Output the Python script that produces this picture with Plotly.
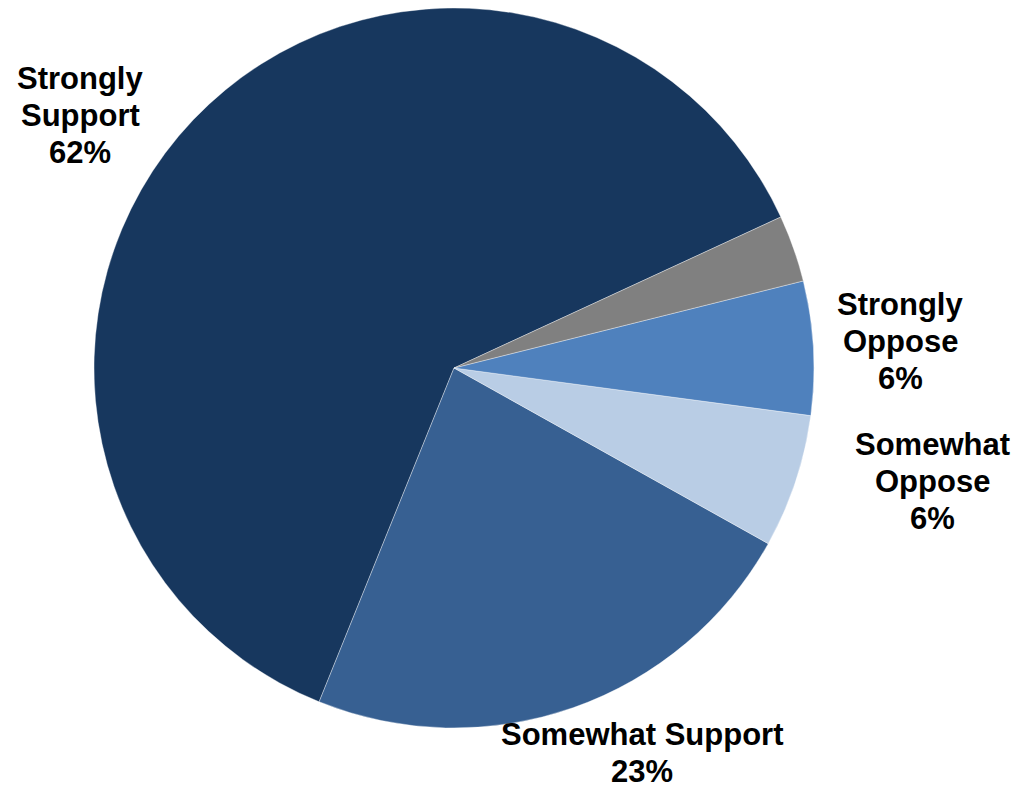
import plotly.graph_objects as go

# Data
categories = ["Strongly Support", "Somewhat Support", "Somewhat Oppose", "Strongly Oppose", "Not Sure"]
values = [62, 23, 6, 6, 3]
colors = ["#17375E", "#376092", "#B9CDE5", "#4F81BD", "#808080"]
label_lines = [["Strongly", "Support"], ["Somewhat Support"], ["Somewhat", "Oppose"], ["Strongly", "Oppose"], None]

W, H = 1029, 785

fig = go.Figure(
    go.Pie(
        labels=categories,
        values=values,
        sort=False,
        direction="counterclockwise",
        rotation=202,
        marker=dict(colors=colors, line=dict(color="rgba(255,255,255,0.6)", width=0.6)),
        textinfo="none",
        hoverinfo="label+percent",
        showlegend=False,
        domain=dict(x=[94 / W, 814 / W], y=[1 - 728 / H, 1 - 8 / H]),
    )
)

# label layout: centre x and first-line centre y in pixels, line step
label_pos = [(80, 79), (642, 734), (932, 444), (900, 304), None]
LINE_STEP = 37
total = sum(values)
for lines, v, pos in zip(label_lines, values, label_pos):
    if lines is None:
        continue
    all_lines = lines + [f"{round(100 * v / total)}%"]
    for i, line in enumerate(all_lines):
        py = pos[1] + i * LINE_STEP
        fig.add_annotation(
            x=pos[0] / W, y=1 - py / H, xref="paper", yref="paper",
            text=line, showarrow=False, align="center",
            xanchor="center", yanchor="middle", borderpad=0,
            font=dict(family="Arial, Liberation Sans, sans-serif", size=31, color="#000000", weight="bold"),
        )

fig.update_layout(
    width=W, height=H,
    margin=dict(l=0, r=0, t=0, b=0),
    paper_bgcolor="white", plot_bgcolor="white",
)

fig.write_html("out.html", config={"displayModeBar": False},
               post_script="document.body.style.margin='0';")
